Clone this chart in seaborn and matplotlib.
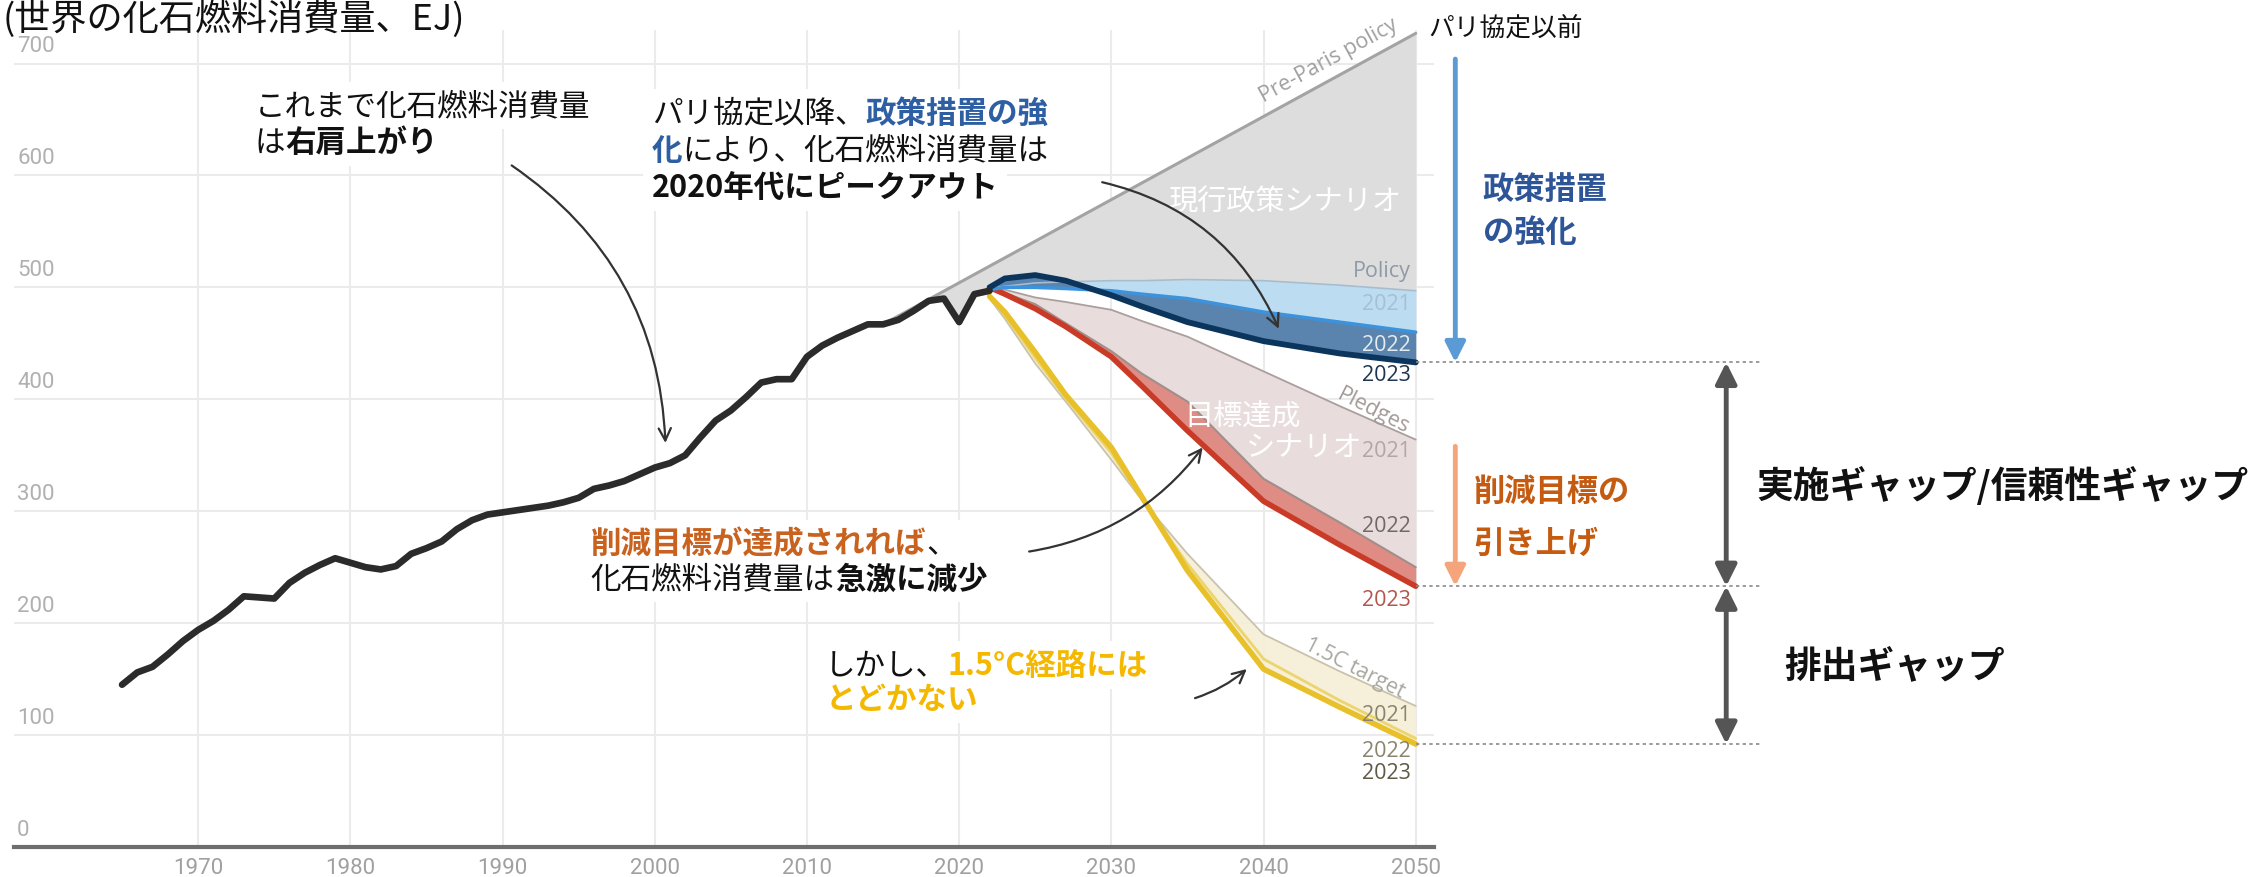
import numpy as np
import matplotlib
matplotlib.use('Agg')
import matplotlib.pyplot as plt
from matplotlib.patches import Rectangle
from matplotlib.transforms import Bbox
import seaborn as sns

# ---- data (EJ) ----
hist_years = list(range(1965, 2023))
hist_ej = [145, 156, 161, 172, 184, 194, 202, 212, 224, 223,
           222, 236, 245, 252, 258, 254, 250, 248, 251, 262,
           267, 273, 284, 292, 297, 299, 301, 303, 305, 308,
           312, 320, 323, 327, 333, 339, 343, 350, 366, 381,
           390, 402, 415, 418, 418, 438, 448, 455, 461, 467,
           467, 471, 479, 488, 490, 469, 494, 497]

prepar_years = [2015, 2050]
prepar_ej = [467, 727]

scen_years = [2022, 2023, 2025, 2027, 2030, 2032, 2035, 2040, 2045, 2050]
policy_2021 = [499, 501, 504, 505, 506, 506, 507, 506, 502, 497]
policy_2022 = [498, 500, 500, 499, 497, 494, 490, 478, 469, 460]
policy_2023 = [500, 508, 511, 506, 493, 483, 469, 452, 441, 433]
pledges_2021 = [499, 498, 491, 487, 480, 470, 456, 425, 394, 364]
pledges_2022 = [499, 495, 485, 468, 443, 423, 398, 329, 290, 250]
pledges_2023 = [500, 494, 481, 465, 438, 412, 372, 309, 270, 233]
target_2021 = [490, 472, 432, 398, 346, 310, 262, 190, 157, 126]
target_2022 = [491, 475, 437, 401, 352, 311, 253, 168, 131, 97]
target_2023 = [492, 478, 442, 404, 357, 313, 247, 159, 125, 92]

x_ticks = list(range(1970, 2051, 10))
y_ticks = list(range(0, 701, 100))

# ---- style ----
sns.set_theme(style='white')
plt.rcParams['font.family'] = ['Noto Sans CJK JP', 'DejaVu Sans']

fig = plt.figure(figsize=(22.61, 8.78), dpi=100)
ax = fig.add_axes([14 / 2261, 30 / 878, 1420 / 2261, 817 / 878])
ax.set_xlim(1957.9, 2051.2)
ax.set_ylim(0, 730)

ax.set_xticks(x_ticks)
ax.set_yticks(y_ticks)
ax.grid(True, color='#ebebeb', lw=1.5, zorder=0)
ax.set_axisbelow(True)
ax.set_yticklabels([])
ax.tick_params(axis='y', length=0)
ax.tick_params(axis='x', length=0, pad=7, labelsize=16, labelcolor='#a0a0a0')
for lbl in ax.get_xticklabels():
    lbl.set_fontfamily('Roboto')
for s in ['top', 'right', 'left']:
    ax.spines[s].set_visible(False)
ax.spines['bottom'].set_color('#6e6e6e')
ax.spines['bottom'].set_linewidth(3)

for v in y_ticks:
    ax.text(1958.1, v + 16, str(v), fontsize=16, color='#b0b0b0', family='Roboto',
            ha='left', va='center')

# ---- fills ----
xf = np.linspace(prepar_years[0], 2050, 141)
pre_line = np.interp(xf, prepar_years, prepar_ej)
low = np.where(xf <= scen_years[0],
               np.interp(xf, hist_years, hist_ej),
               np.maximum(np.interp(xf, scen_years, policy_2021),
                          np.interp(xf, scen_years, policy_2023)))
ax.fill_between(xf, low, pre_line, color='#dddddd', lw=0, zorder=1)

ax.fill_between(scen_years, pledges_2022, pledges_2021, color='#e8dddc', lw=0, zorder=2)
ax.fill_between(scen_years, pledges_2023, pledges_2022, color='#de8c84', lw=0, zorder=2)
ax.fill_between(scen_years, target_2023, target_2021, color='#f5efd6', alpha=0.9, lw=0, zorder=2)
ax.fill_between(scen_years, policy_2022, policy_2021, color='#bcdcf2', lw=0, zorder=2)
ax.fill_between(scen_years, policy_2023, policy_2022, color='#5a84ad', lw=0, zorder=2)

# ---- lines ----
line_specs = [
    (prepar_years, prepar_ej, '#a3a3a3', 2.2),
    (scen_years, pledges_2021, '#aa9f9d', 1.3),
    (scen_years, pledges_2022, '#a18e8b', 1.5),
    (scen_years, target_2021, '#c9c3ad', 1.3),
    (scen_years, target_2022, '#ecd46e', 2.0),
    (scen_years, target_2023, '#e8c12a', 4.0),
    (scen_years, pledges_2023, '#c93b27', 4.0),
    (scen_years, policy_2021, '#a7bccd', 1.2),
    (scen_years, policy_2022, '#3c93dc', 2.5),
    (scen_years, policy_2023, '#0c355e', 4.2),
]
for xs, ys, c, w in line_specs:
    sns.lineplot(x=xs, y=ys, color=c, lw=w, ax=ax, zorder=3, solid_capstyle='round')
sns.lineplot(x=hist_years, y=hist_ej, color='#2b2b2b', lw=4.8, ax=ax, zorder=4,
             solid_capstyle='round', solid_joinstyle='round')

# ---- in-plot labels ----
p1 = ax.transData.transform((2040, np.interp(2040, prepar_years, prepar_ej)))
p2 = ax.transData.transform((2048, np.interp(2048, prepar_years, prepar_ej)))
ang = np.degrees(np.arctan2(p2[1] - p1[1], p2[0] - p1[0]))
ax.text(2044.3, np.interp(2044.3, prepar_years, prepar_ej) + 19, 'Pre-Paris policy',
        rotation=ang, rotation_mode='anchor', ha='center', va='center',
        fontsize=15.5, color='#a0a0a0', family='Open Sans', zorder=6)

lab_x = 2049.7
small = dict(ha='right', va='center', fontsize=15.5, family='Open Sans', zorder=6)
ax.text(lab_x, 515, 'Policy', color='#8e9aa6', **small)
ax.text(lab_x, 486, '2021', color='#a7bfd4', **small)
ax.text(lab_x, 449, '2022', color='#e3ecf3', **small)
ax.text(lab_x, 422, '2023', color='#1d3550', **small)
ax.text(2047.2, 390, 'Pledges', rotation=-27, ha='center', va='center', fontsize=15.5,
        color='#a39a98', family='Open Sans', zorder=6)
ax.text(lab_x, 354, '2021', color='#b3a7a5', **small)
ax.text(lab_x, 287, '2022', color='#6f6a69', **small)
ax.text(lab_x, 221, '2023', color='#b5564c', **small)
ax.text(2046.0, 160, '1.5C target', rotation=-27, ha='center', va='center', fontsize=15.5,
        color='#a8a8a0', family='Open Sans', zorder=6)
ax.text(lab_x, 118, '2021', color='#8a846f', **small)
ax.text(lab_x, 86, '2022', color='#8a846f', **small)
ax.text(lab_x, 67, '2023', color='#5e5a45', **small)

ax.text(2041.4, 577, '現行政策シナリオ', ha='center', va='center', fontsize=21, color='white', zorder=6)
ax.text(2038.6, 385, '目標達成', ha='center', va='center', fontsize=21, color='white', zorder=6)
ax.text(2042.7, 357, 'シナリオ', ha='center', va='center', fontsize=21, color='white', zorder=6)

# ---- rich text annotations ----
boxed = []  # segments that need a white backing box


def rich_line(x, y, parts, size=22, box=True):
    prev = None
    segs = []
    for txt, color, weight in parts:
        kw = dict(fontsize=size, color=color, fontweight=weight, va='baseline', ha='left',
                  zorder=8, annotation_clip=False)
        if prev is None:
            prev = ax.annotate(txt, xy=(x, y), xycoords='data', **kw)
        else:
            prev = ax.annotate(txt, xy=(1, y), xycoords=(prev, 'data'), **kw)
        segs.append(prev)
    if box:
        boxed.append(segs)


BLUE = '#2e5fa3'
ORANGE = '#c9621f'
YELLOW = '#f5b800'
K = '#111111'

rich_line(1973.7, 655, [('これまで化石燃料消費量', K, 'normal')])
rich_line(1973.7, 622, [('は', K, 'normal'), ('右肩上がり', K, 'bold')])

rich_line(1999.8, 648, [('パリ協定以降、', K, 'normal'), ('政策措置の強', BLUE, 'bold')])
rich_line(1999.8, 615, [('化', BLUE, 'bold'), ('により、化石燃料消費量は', K, 'normal')])
rich_line(1999.8, 582, [('2020年代にピークアウト', K, 'bold')])

rich_line(1995.8, 263, [('削減目標が達成されれば', ORANGE, 'bold'), ('、', K, 'normal')])
rich_line(1995.8, 232, [('化石燃料消費量は', K, 'normal'), ('急激に減少', K, 'bold')])

rich_line(2011.2, 155, [('しかし、', K, 'normal'), ('1.5°C経路には', YELLOW, 'bold')])
rich_line(2011.2, 124, [('とどかない', YELLOW, 'bold')])

arrow_kw = dict(arrowstyle='->', color='#333333', lw=1.6, mutation_scale=22, shrinkA=0, shrinkB=0)
ax.annotate('', xy=(2000.7, 361), xytext=(1990.6, 609),
            arrowprops=dict(connectionstyle='arc3,rad=-0.25', **arrow_kw), zorder=9)
ax.annotate('', xy=(2041.0, 463), xytext=(2029.4, 594),
            arrowprops=dict(connectionstyle='arc3,rad=-0.25', **arrow_kw), zorder=9)
ax.annotate('', xy=(2036.0, 357), xytext=(2024.6, 264),
            arrowprops=dict(connectionstyle='arc3,rad=0.2', **arrow_kw), zorder=9)
ax.annotate('', xy=(2038.9, 159), xytext=(2035.5, 133),
            arrowprops=dict(connectionstyle='arc3,rad=0.1', **arrow_kw), zorder=9)

# ---- right-side gap annotations ----
ends = [policy_2023[-1], pledges_2023[-1], target_2023[-1]]
for v in ends:
    ax.plot([2050, 2072.7], [v, v], ls=(0, (2, 2)), color='#8a8a8a', lw=1.2, clip_on=False, zorder=5)

ax.annotate('', xy=(2052.6, policy_2023[-1]), xytext=(2052.6, 704), annotation_clip=False,
            arrowprops=dict(arrowstyle='-|>', color='#5b9bd5', lw=3.5, mutation_scale=30,
                            shrinkA=0, shrinkB=0))
ax.annotate('', xy=(2052.6, pledges_2023[-1]), xytext=(2052.6, 358), annotation_clip=False,
            arrowprops=dict(arrowstyle='-|>', color='#f4a57c', lw=3.5, mutation_scale=30,
                            shrinkA=0, shrinkB=0))
for a, b in [(ends[0], ends[1]), (ends[1], ends[2])]:
    ax.annotate('', xy=(2070.4, b), xytext=(2070.4, a), annotation_clip=False,
                arrowprops=dict(arrowstyle='<|-|>', color='#555555', lw=3.5, mutation_scale=32,
                                shrinkA=0, shrinkB=0))

rich_line(2050.8, 726, [('パリ協定以前', K, 'normal')], size=18.5, box=False)
rich_line(2054.4, 580, [('政策措置', '#2e5597', 'bold')], size=22.5, box=False)
rich_line(2054.4, 542, [('の強化', '#2e5597', 'bold')], size=22.5, box=False)
rich_line(2053.8, 310, [('削減目標の', '#c55a11', 'bold')], size=22.5, box=False)
rich_line(2053.8, 264, [('引き上げ', '#c55a11', 'bold')], size=22.5, box=False)
rich_line(2072.4, 313, [('実施ギャップ/信頼性ギャップ', K, 'bold')], size=26.5, box=False)
rich_line(2074.2, 152, [('排出ギャップ', K, 'bold')], size=26.5, box=False)

fig.text(0.001, 1 - 19 / 878, '(世界の化石燃料消費量、EJ)', ha='left', va='center',
         fontsize=26, color=K)

# white boxes behind annotation lines (cover the grid like the original)
fig.canvas.draw()
renderer = fig.canvas.get_renderer()
inv = ax.transData.inverted()
for segs in boxed:
    bb = Bbox.union([t.get_window_extent(renderer) for t in segs]).expanded(1.0, 1.0)
    bb = Bbox.from_extents(bb.x0 - 9, bb.y0 - 8, bb.x1 + 9, bb.y1 + 8)
    (x0, y0), (x1, y1) = inv.transform([(bb.x0, bb.y0), (bb.x1, bb.y1)])
    ax.add_patch(Rectangle((x0, y0), x1 - x0, y1 - y0, fc='white', ec='none', zorder=7,
                           clip_on=False))

fig.savefig('out.png', dpi=100)
